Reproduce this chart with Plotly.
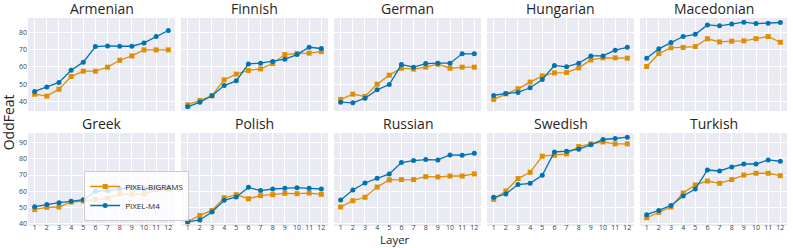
import plotly.graph_objects as go
from plotly.subplots import make_subplots

layers = list(range(1, 13))
languages = ['Armenian', 'Finnish', 'German', 'Hungarian', 'Macedonian',
             'Greek', 'Polish', 'Russian', 'Swedish', 'Turkish']

armenian_bigrams = [44.2, 43.1, 47.1, 54.4, 57.5, 57.5, 59.8, 63.8, 66.3, 69.8, 69.8, 69.8]
armenian_m4 = [45.8, 48.3, 51.0, 58.0, 62.7, 71.7, 72.1, 71.9, 71.9, 73.8, 77.5, 81.0]
finnish_bigrams = [38.1, 40.6, 43.3, 52.5, 55.8, 57.9, 58.8, 61.9, 67.1, 67.7, 67.9, 68.8]
finnish_m4 = [36.9, 39.6, 43.3, 49.2, 51.9, 61.7, 62.1, 63.1, 64.4, 67.1, 71.3, 70.6]
german_bigrams = [41.2, 44.2, 42.9, 50.0, 55.2, 59.2, 58.7, 59.8, 61.5, 59.2, 59.8, 59.8]
german_m4 = [39.6, 39.2, 41.9, 46.7, 49.8, 61.3, 59.8, 61.9, 62.1, 62.1, 67.5, 67.5]
hungarian_bigrams = [41.2, 44.4, 47.3, 51.2, 54.8, 56.5, 56.7, 59.4, 64.0, 65.2, 65.2, 65.0]
hungarian_m4 = [43.5, 44.6, 45.2, 47.9, 52.7, 60.8, 60.0, 62.1, 66.3, 66.3, 69.6, 71.3]
macedonian_bigrams = [60.2, 67.7, 71.0, 71.2, 71.7, 76.2, 74.4, 74.8, 75.0, 76.3, 77.5, 74.2]
macedonian_m4 = [65.0, 70.4, 74.0, 77.5, 78.8, 84.2, 83.7, 84.8, 85.8, 85.0, 85.2, 85.6]
greek_bigrams = [48.8, 50.1, 50.3, 53.4, 54.0, 55.0, 55.6, 58.3, 58.3, 58.3, 61.0, 60.8]
greek_m4 = [50.5, 51.9, 53.0, 53.8, 54.8, 60.0, 60.4, 61.4, 62.6, 61.4, 62.6, 62.4]
polish_bigrams = [41.2, 45.1, 48.2, 56.0, 57.9, 55.4, 57.3, 57.9, 58.7, 58.5, 58.9, 58.1]
polish_m4 = [41.2, 42.3, 47.2, 54.4, 56.5, 62.4, 60.4, 61.4, 61.8, 62.2, 61.8, 61.4]
russian_bigrams = [50.3, 54.2, 56.3, 62.6, 67.0, 67.2, 67.2, 69.0, 68.8, 69.4, 69.4, 70.7]
russian_m4 = [54.6, 60.8, 65.1, 68.0, 70.7, 77.7, 78.9, 79.5, 79.3, 82.4, 82.2, 83.4]
swedish_bigrams = [55.0, 60.2, 67.8, 71.7, 81.6, 82.2, 83.0, 87.5, 89.2, 90.4, 89.2, 89.2]
swedish_m4 = [56.3, 58.3, 64.1, 64.9, 69.8, 84.2, 84.7, 85.9, 88.6, 91.9, 92.5, 93.3]
turkish_bigrams = [43.7, 47.0, 50.3, 58.9, 63.9, 66.3, 64.9, 67.2, 70.0, 71.1, 71.1, 69.6]
turkish_m4 = [45.6, 48.2, 51.3, 57.1, 61.4, 73.1, 72.5, 75.0, 76.8, 76.8, 79.3, 78.5]

bigrams = [armenian_bigrams, finnish_bigrams, german_bigrams, hungarian_bigrams, macedonian_bigrams,
           greek_bigrams, polish_bigrams, russian_bigrams, swedish_bigrams, turkish_bigrams]
m4 = [armenian_m4, finnish_m4, german_m4, hungarian_m4, macedonian_m4,
      greek_m4, polish_m4, russian_m4, swedish_m4, turkish_m4]

top_ticks = [40, 50, 60, 70, 80]
bottom_ticks = [40, 50, 60, 70, 80, 90]

ORANGE = '#DE8F05'
BLUE = '#0173B2'
FONT = 'Open Sans, DejaVu Sans, sans-serif'

fig = make_subplots(rows=2, cols=5, subplot_titles=languages,
                    horizontal_spacing=6 / 759, vertical_spacing=22 / 208)

for i, lang in enumerate(languages):
    r, c = i // 5 + 1, i % 5 + 1
    first = i == 5
    fig.add_trace(go.Scatter(x=layers, y=bigrams[i], name='PIXEL-BIGRAMS', mode='lines+markers',
                             line=dict(color=ORANGE, width=1.3),
                             marker=dict(symbol='square', size=5, color=ORANGE),
                             showlegend=first, legendrank=1), row=r, col=c)
    fig.add_trace(go.Scatter(x=layers, y=m4[i], name='PIXEL-M4', mode='lines+markers',
                             line=dict(color=BLUE, width=1.3),
                             marker=dict(symbol='circle', size=5, color=BLUE),
                             showlegend=first, legendrank=2), row=r, col=c)
    fig.update_xaxes(range=[0.45, 12.55], tickvals=layers, showticklabels=(r == 2),
                     row=r, col=c)
    if r == 1:
        fig.update_yaxes(range=[34.5, 88.2], tickvals=top_ticks, row=r, col=c)
    else:
        fig.update_yaxes(range=[38.6, 95.9], tickvals=bottom_ticks, row=r, col=c)
    fig.update_yaxes(showticklabels=(c == 1), row=r, col=c)

fig.update_xaxes(showgrid=True, gridcolor='white', gridwidth=1, zeroline=False, ticks='',
                 tickfont=dict(size=7, color='#444'), ticklen=0, ticklabelstandoff=-4)
fig.update_yaxes(showgrid=True, gridcolor='white', gridwidth=1, zeroline=False, ticks='',
                 tickfont=dict(size=7, color='#444'), ticklen=0)

for ann in fig.layout.annotations:
    ann.font = dict(size=14, color='#262626', family=FONT)
    ann.yshift = -2

fig.add_annotation(text='Layer', x=0.484, y=-22 / 208, xref='paper', yref='paper',
                   showarrow=False, xanchor='center', yanchor='bottom', borderpad=0,
                   font=dict(size=11.5, color='#262626', family=FONT))
fig.add_annotation(text='OddFeat', x=-0.026, y=0.5, xref='paper', yref='paper',
                   textangle=-90, showarrow=False, xanchor='center', yanchor='middle',
                   font=dict(size=14, color='#262626', family=FONT))

fig.update_layout(
    width=793, height=248,
    margin=dict(l=28, r=6, t=18, b=22),
    plot_bgcolor='#EAEAF2', paper_bgcolor='white',
    font=dict(family=FONT, color='#262626'),
    legend=dict(x=0.074, y=0.024, xanchor='left', yanchor='bottom',
                bgcolor='rgba(255,255,255,0.8)', bordercolor='#CCCCCC', borderwidth=1,
                font=dict(size=8, color='#262626'), itemwidth=30,
                tracegroupgap=0),
)

fig.write_html('out.html', config={'displayModeBar': False},
               post_script="document.body.style.margin='0';")
